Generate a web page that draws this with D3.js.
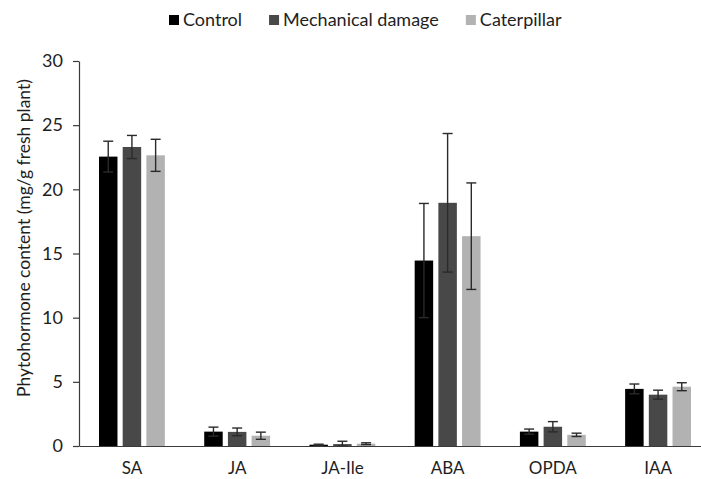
<!DOCTYPE html>
<html>
<head>
<meta charset="utf-8">
<script src="https://cdn.jsdelivr.net/npm/d3@7"></script>
<style>
  html, body { margin: 0; padding: 0; background: #fff; }
  svg { display: block; font-family: "Lato", "Open Sans", sans-serif; }
</style>
</head>
<body>
<svg id="chart" width="701" height="479"></svg>
<script>
// Hormone classes on the x axis
const categories = ["SA", "JA", "JA-Ile", "ABA", "OPDA", "IAA"];
// Treatments (one bar per treatment inside each class)
const seriesNames = ["Control", "Mechanical damage", "Caterpillar"];
const seriesColors = ["#000000", "#484848", "#b2b2b2"];
// Mean content per class, one array per treatment
const controlMean    = [22.55, 1.12, 0.10, 14.45, 1.12, 4.45];
const mechanicalMean = [23.30, 1.10, 0.15, 18.95, 1.50, 4.00];
const caterpillarMean= [22.65, 0.80, 0.18, 16.35, 0.87, 4.62];
// Error bar half-widths
const controlErr     = [1.20, 0.35, 0.04, 4.45, 0.20, 0.38];
const mechanicalErr  = [0.90, 0.30, 0.22, 5.40, 0.40, 0.35];
const caterpillarErr = [1.25, 0.28, 0.07, 4.15, 0.13, 0.31];
// Y axis ticks
const yTicks = [0, 5, 10, 15, 20, 25, 30];
const yTitle = "Phytohormone content (mg/g fresh plant)";

const means = [controlMean, mechanicalMean, caterpillarMean];
const errs = [controlErr, mechanicalErr, caterpillarErr];

const rows = [];
categories.forEach((c, i) => {
  seriesNames.forEach((s, j) => {
    rows.push({ cat: c, series: s, idx: j, value: means[j][i], err: errs[j][i] });
  });
});

const svg = d3.select("#chart");
const textColor = "#1e1e1e";
const axisColor = "#3a3a3a";

const x0 = d3.scaleBand().domain(categories).range([79, 711])
  .paddingInner(0.374).paddingOuter(0.19);
const x1 = d3.scaleBand().domain(seriesNames).range([0, x0.bandwidth()])
  .paddingInner(0.22);
const y = d3.scaleLinear().domain([0, 30]).range([446, 61]);

// Bars
svg.append("g").selectAll("rect").data(rows).join("rect")
  .attr("x", d => x0(d.cat) + x1(d.series))
  .attr("y", d => y(d.value))
  .attr("width", x1.bandwidth())
  .attr("height", d => y(0) - y(d.value))
  .attr("fill", d => seriesColors[d.idx]);

// Error bars
const capHalf = 5;
const eg = svg.append("g").attr("stroke", "#2a2a2a").attr("stroke-width", 1.4).attr("fill", "none");
rows.forEach(d => {
  const cx = x0(d.cat) + x1(d.series) + x1.bandwidth() / 2;
  const yt = y(d.value + d.err), yb = y(Math.max(0, d.value - d.err));
  eg.append("line").attr("x1", cx).attr("x2", cx).attr("y1", yt).attr("y2", yb);
  eg.append("line").attr("x1", cx - capHalf).attr("x2", cx + capHalf).attr("y1", yt).attr("y2", yt);
  eg.append("line").attr("x1", cx - capHalf).attr("x2", cx + capHalf).attr("y1", yb).attr("y2", yb);
});

// Y axis
const yAxis = svg.append("g").attr("transform", "translate(79,0)")
  .call(d3.axisLeft(y).tickValues(yTicks).tickSize(6).tickSizeOuter(0).tickPadding(10));
yAxis.selectAll("path, line").attr("stroke", axisColor).attr("stroke-width", 1.2);
yAxis.selectAll("text").attr("fill", textColor).attr("font-size", 18)
  .attr("font-family", "Lato, 'Open Sans', sans-serif");

// X axis
const xAxis = svg.append("g").attr("transform", "translate(0,446)")
  .call(d3.axisBottom(x0).tickSize(0).tickSizeOuter(0).tickPadding(16));
xAxis.selectAll("path").attr("stroke", axisColor).attr("stroke-width", 1.2);
xAxis.selectAll("text").attr("fill", textColor).attr("font-size", 17)
  .attr("font-family", "Lato, 'Open Sans', sans-serif");

// Y axis title
svg.append("text")
  .attr("transform", "translate(30,238) rotate(-90)")
  .attr("text-anchor", "middle")
  .attr("font-size", 17.5)
  .attr("fill", textColor)
  .text(yTitle);

// Legend
const legend = svg.append("g");
let lx = 169;
seriesNames.forEach((s, j) => {
  legend.append("rect").attr("x", lx).attr("y", 15).attr("width", 10).attr("height", 10)
    .attr("fill", seriesColors[j]);
  const t = legend.append("text").attr("x", lx + 14).attr("y", 26)
    .attr("font-size", 18).attr("fill", textColor).text(s);
  lx += 14 + t.node().getComputedTextLength() + 27;
});
</script>
</body>
</html>
